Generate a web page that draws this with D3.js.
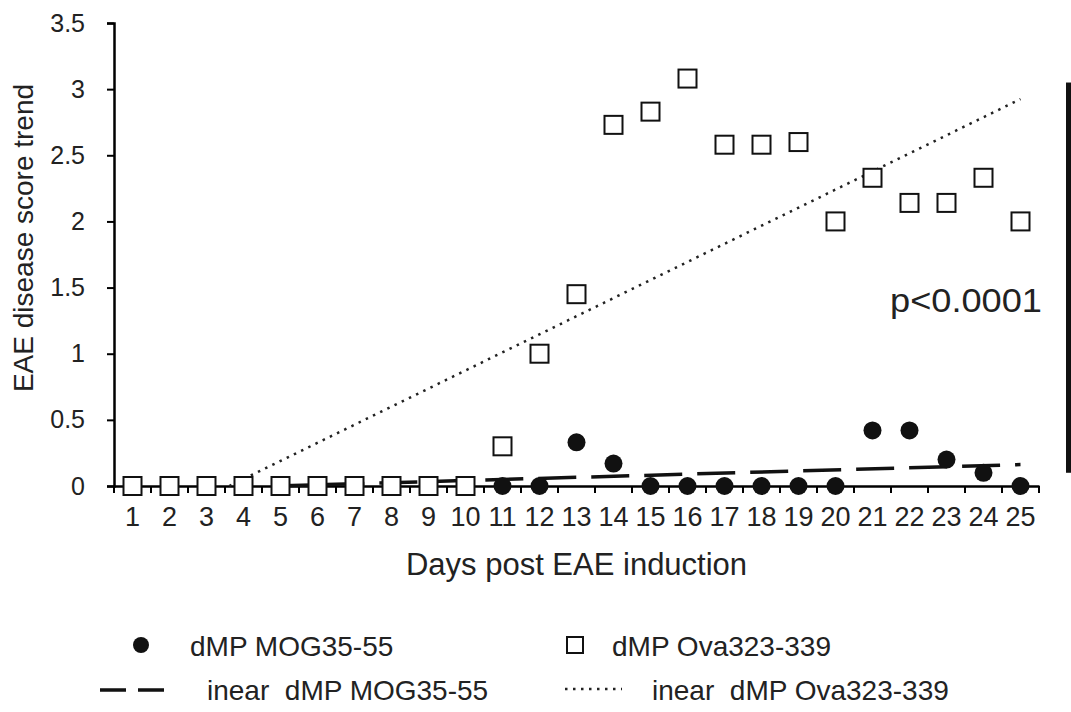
<!DOCTYPE html>
<html>
<head>
<meta charset="utf-8">
<script src="https://cdn.jsdelivr.net/npm/d3@7"></script>
<style>
  html, body { margin: 0; padding: 0; background: #fff; }
  svg { display: block; font-family: "Liberation Sans", Arial, sans-serif; }
  .legend text { white-space: pre; }
</style>
</head>
<body>
<div id="chart"></div>
<script>
// values
const days = [1, 2, 3, 4, 5, 6, 7, 8, 9, 10, 11, 12, 13, 14, 15, 16, 17, 18, 19, 20, 21, 22, 23, 24, 25]
const mogScores = [0, 0, 0, 0, 0, 0, 0, 0, 0, 0, 0, 0, 0.33, 0.17, 0, 0, 0, 0, 0, 0, 0.42, 0.42, 0.2, 0.1, 0]
const ovaScores = [0, 0, 0, 0, 0, 0, 0, 0, 0, 0, 0.3, 1.0, 1.45, 2.73, 2.83, 3.08, 2.58, 2.58, 2.6, 2.0, 2.33, 2.14, 2.14, 2.33, 2.0]
const yTicks = [0, 0.5, 1, 1.5, 2, 2.5, 3, 3.5]
const seriesNames = ['dMP MOG35-55', 'dMP Ova323-339']
const trendNames = ['inear  dMP MOG35-55', 'inear  dMP Ova323-339']

const width = 1071
const height = 712
const plotLeft = 114, plotRight = 1039, plotTop = 23, plotBottom = 486

const svg = d3.select('#chart')
  .append('svg')
    .attr('width', width)
    .attr('height', height)

const x = d3.scaleBand()
  .domain(days)
  .range([plotLeft, plotRight])
  .padding(0)

const bw = x.bandwidth()
const xc = d => x(d) + bw / 2
// continuous day -> pixel, for the trend lines
const xLin = d3.scaleLinear()
  .domain([days[0], days[days.length - 1]])
  .range([xc(days[0]), xc(days[days.length - 1])])

const y = d3.scaleLinear()
  .domain([0, 3.5])
  .range([plotBottom, plotTop])

// least squares fit, same as a spreadsheet linear trendline
function linearFit (xs, ys) {
  const mx = d3.mean(xs), my = d3.mean(ys)
  let sxy = 0, sxx = 0
  xs.forEach((v, i) => {
    sxy += (v - mx) * (ys[i] - my)
    sxx += (v - mx) * (v - mx)
  })
  const slope = sxy / sxx
  return { slope, intercept: my - slope * mx }
}

function trendPoints (scores) {
  const fit = linearFit(days, scores)
  const x0 = days[0], x1 = days[days.length - 1]
  let start = x0
  const zeroAt = -fit.intercept / fit.slope
  if (fit.intercept + fit.slope * x0 < 0 && zeroAt > x0) start = zeroAt
  return [start, x1].map(d => [d, fit.intercept + fit.slope * d])
}

// axes
const yAxis = d3.axisLeft(y)
  .tickValues(yTicks)
  .tickFormat(d => String(d))
  .tickSizeOuter(0)
  .tickSize(7)
  .tickPadding(22)

const gy = svg.append('g')
  .attr('transform', `translate(${plotLeft},0)`)
  .call(yAxis)
gy.select('.domain').attr('stroke', '#000').attr('stroke-width', 2.5)
gy.selectAll('.tick line').attr('stroke', '#000').attr('stroke-width', 2)
gy.selectAll('.tick text')
  .attr('fill', '#222')
  .style('font-size', '25px')

const xAxis = d3.axisBottom(x)
  .tickSize(0)
  .tickSizeOuter(0)
  .tickPadding(21)

const gx = svg.append('g')
  .attr('transform', `translate(0,${plotBottom})`)
  .call(xAxis)
gx.select('.domain').attr('stroke', '#000').attr('stroke-width', 2.5)
gx.selectAll('.tick text')
  .attr('fill', '#222')
  .style('font-size', '27px')

// tick marks sit between the categories
gx.selectAll('line.bound')
  .data(days.map(d => x(d)).concat([x.range()[1]]))
  .enter().append('line')
    .attr('class', 'bound')
    .attr('x1', d => d)
    .attr('x2', d => d)
    .attr('y1', 0)
    .attr('y2', 7)
    .attr('stroke', '#000')
    .attr('stroke-width', 2)

// axis titles
svg.append('text')
  .attr('x', (plotLeft + plotRight) / 2)
  .attr('y', 575)
  .attr('text-anchor', 'middle')
  .attr('fill', '#222')
  .style('font-size', '31px')
  .text('Days post EAE induction')

svg.append('text')
  .attr('transform', 'translate(33,238) rotate(-90)')
  .attr('text-anchor', 'middle')
  .attr('fill', '#222')
  .style('font-size', '28px')
  .text('EAE disease score trend')

// trend lines
const line = d3.line()
  .x(d => xLin(d[0]))
  .y(d => y(d[1]))

svg.append('path')
  .datum(trendPoints(mogScores))
  .attr('d', line)
  .attr('fill', 'none')
  .attr('stroke', '#111')
  .attr('stroke-width', 3.5)
  .attr('stroke-dasharray', '38,15')

svg.append('path')
  .datum(trendPoints(ovaScores))
  .attr('d', line)
  .attr('fill', 'none')
  .attr('stroke', '#222')
  .attr('stroke-width', 2.5)
  .attr('stroke-dasharray', '2.5,5.5')

// points
svg.append('g')
  .selectAll('circle')
  .data(days.map((d, i) => ({ day: d, v: mogScores[i] })))
  .enter().append('circle')
    .attr('cx', d => xc(d.day))
    .attr('cy', d => y(d.v))
    .attr('r', 9)
    .attr('fill', '#111')

const sq = 18
svg.append('g')
  .selectAll('rect')
  .data(days.map((d, i) => ({ day: d, v: ovaScores[i] })))
  .enter().append('rect')
    .attr('x', d => xc(d.day) - sq / 2)
    .attr('y', d => y(d.v) - sq / 2)
    .attr('width', sq)
    .attr('height', sq)
    .attr('fill', '#fff')
    .attr('stroke', '#111')
    .attr('stroke-width', 2)

// significance bar and label
svg.append('rect')
  .attr('x', 1066)
  .attr('y', y(3.05))
  .attr('width', 5)
  .attr('height', y(0.1) - y(3.05))
  .attr('fill', '#111')

svg.append('text')
  .attr('x', 890)
  .attr('y', 312)
  .attr('fill', '#222')
  .style('font-size', '34px')
  .attr('textLength', 152)
  .attr('lengthAdjust', 'spacingAndGlyphs')
  .text('p<0.0001')

// legend
const legend = svg.append('g').attr('class', 'legend')
const legendFont = '28px'

legend.append('circle')
  .attr('cx', 141).attr('cy', 645).attr('r', 8)
  .attr('fill', '#111')
legend.append('text')
  .attr('x', 190).attr('y', 656)
  .attr('fill', '#222')
  .style('font-size', legendFont)
  .text(seriesNames[0])

legend.append('rect')
  .attr('x', 567).attr('y', 637).attr('width', 16).attr('height', 16)
  .attr('fill', '#fff').attr('stroke', '#111').attr('stroke-width', 2)
legend.append('text')
  .attr('x', 612).attr('y', 656)
  .attr('fill', '#222')
  .style('font-size', legendFont)
  .text(seriesNames[1])

legend.append('line')
  .attr('x1', 100).attr('x2', 170).attr('y1', 690).attr('y2', 690)
  .attr('stroke', '#111').attr('stroke-width', 3.5)
  .attr('stroke-dasharray', '26,12')
legend.append('text')
  .attr('x', 207).attr('y', 700)
  .attr('fill', '#222')
  .style('font-size', legendFont)
  .text(trendNames[0])

legend.append('line')
  .attr('x1', 565).attr('x2', 622).attr('y1', 689).attr('y2', 689)
  .attr('stroke', '#222').attr('stroke-width', 2.5)
  .attr('stroke-dasharray', '2.5,5.5')
legend.append('text')
  .attr('x', 652).attr('y', 700)
  .attr('fill', '#222')
  .style('font-size', legendFont)
  .text(trendNames[1])
</script>
</body>
</html>
